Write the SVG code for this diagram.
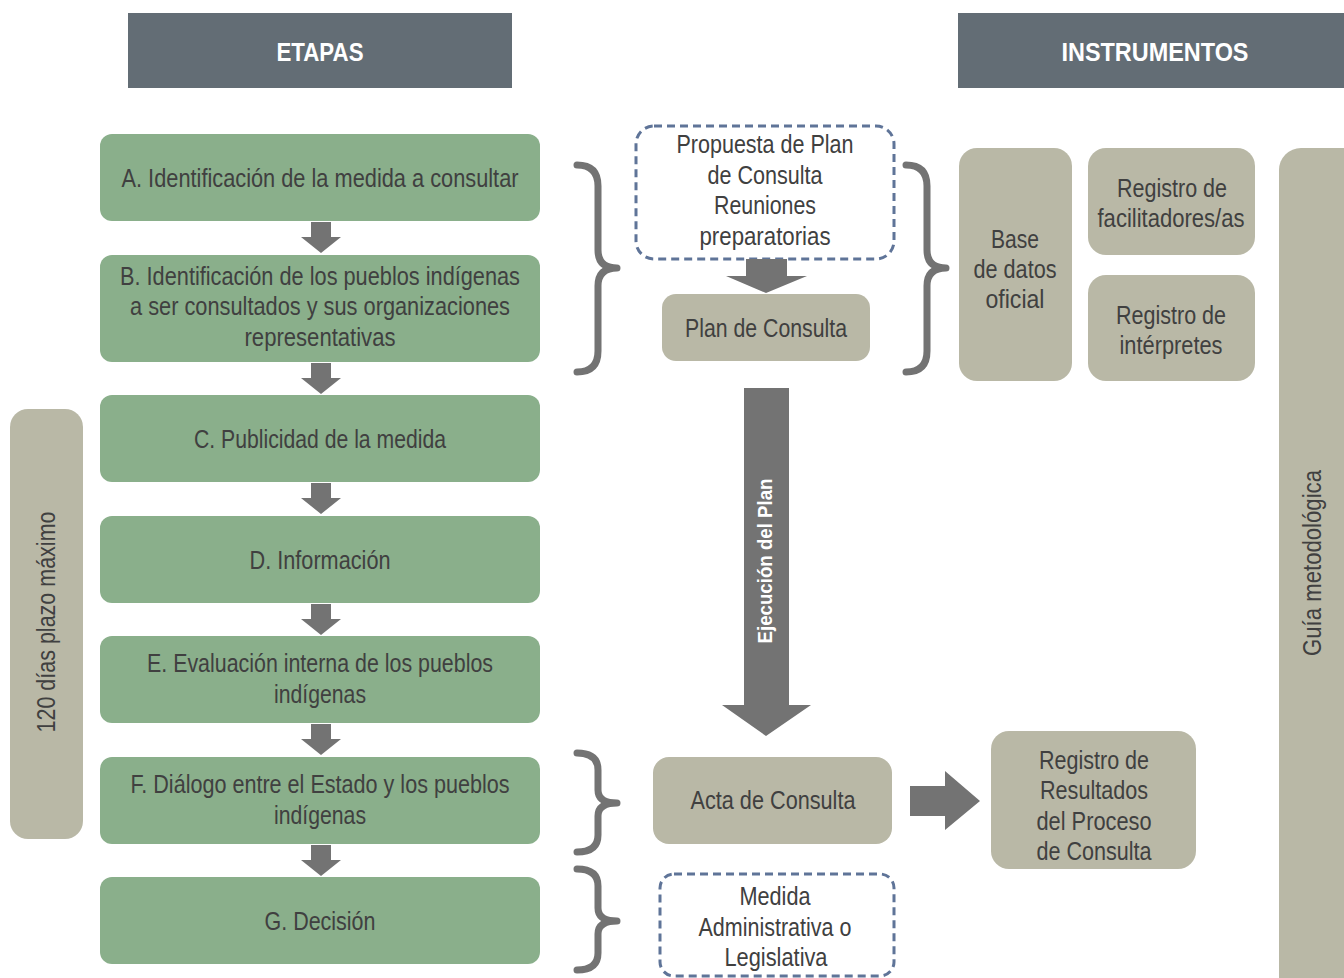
<svg xmlns="http://www.w3.org/2000/svg" width="1344" height="978" viewBox="0 0 1344 978">
<defs>
<style>
.t{font-family:"Liberation Sans Narrow","Liberation Sans",Arial,sans-serif;font-size:25px;fill:#404040;text-anchor:middle}
.h{font-family:"Liberation Sans Narrow","Liberation Sans",Arial,sans-serif;font-size:26px;font-weight:bold;fill:#ffffff;text-anchor:middle}
.hdr{fill:#636d75}
.g{fill:#8aaf8b}
.b{fill:#b9b8a6}
.d{fill:#ffffff;stroke:#5f7498;stroke-width:3;stroke-dasharray:8 5}
.ar{fill:#737373}
.br{fill:none;stroke:#737373;stroke-width:7;stroke-linecap:round;stroke-linejoin:round}
</style>
</defs>
<rect width="1344" height="978" fill="#ffffff"/>

<g id="hdr-etapas"><rect class="hdr" x="128" y="13" width="384" height="75"/><text class="h" x="320" y="61" textLength="87" lengthAdjust="spacingAndGlyphs">ETAPAS</text></g>
<g id="hdr-instrumentos"><rect class="hdr" x="958" y="13" width="386" height="75"/><text class="h" x="1155" y="61" textLength="187" lengthAdjust="spacingAndGlyphs">INSTRUMENTOS</text></g>

<g id="plazo"><rect class="b" x="10" y="409" width="73" height="430" rx="18"/><text class="t" transform="translate(55,622) rotate(-90)" x="0" y="0" textLength="221" lengthAdjust="spacingAndGlyphs">120 días plazo máximo</text></g>
<g id="guia"><rect class="b" x="1279" y="148" width="90" height="850" rx="22"/><text class="t" transform="translate(1321,563) rotate(-90)" x="0" y="0" textLength="186" lengthAdjust="spacingAndGlyphs">Guía metodológica</text></g>

<g id="A"><rect class="g" x="100" y="134" width="440" height="87" rx="12"/><text class="t" x="320" y="187" textLength="397" lengthAdjust="spacingAndGlyphs">A. Identificación de la medida a consultar</text></g>
<g id="B"><rect class="g" x="100" y="255" width="440" height="107" rx="12"/><text class="t" x="320" y="285" textLength="400" lengthAdjust="spacingAndGlyphs">B. Identificación de los pueblos indígenas</text><text class="t" x="320" y="315" textLength="380" lengthAdjust="spacingAndGlyphs">a ser consultados y sus organizaciones</text><text class="t" x="320" y="346" textLength="151" lengthAdjust="spacingAndGlyphs">representativas</text></g>
<g id="C"><rect class="g" x="100" y="395" width="440" height="87" rx="12"/><text class="t" x="320" y="448" textLength="252" lengthAdjust="spacingAndGlyphs">C. Publicidad de la medida</text></g>
<g id="D"><rect class="g" x="100" y="516" width="440" height="87" rx="12"/><text class="t" x="320" y="569" textLength="141" lengthAdjust="spacingAndGlyphs">D. Información</text></g>
<g id="E"><rect class="g" x="100" y="636" width="440" height="87" rx="12"/><text class="t" x="320" y="672" textLength="346" lengthAdjust="spacingAndGlyphs">E. Evaluación interna de los pueblos</text><text class="t" x="320" y="703" textLength="92" lengthAdjust="spacingAndGlyphs">indígenas</text></g>
<g id="F"><rect class="g" x="100" y="757" width="440" height="87" rx="12"/><text class="t" x="320" y="793" textLength="379" lengthAdjust="spacingAndGlyphs">F. Diálogo entre el Estado y los pueblos</text><text class="t" x="320" y="824" textLength="92" lengthAdjust="spacingAndGlyphs">indígenas</text></g>
<g id="G"><rect class="g" x="100" y="877" width="440" height="87" rx="12"/><text class="t" x="320" y="930" textLength="111" lengthAdjust="spacingAndGlyphs">G. Decisión</text></g>

<g id="propuesta"><rect class="d" x="636" y="126" width="258" height="133" rx="18"/><text class="t" x="765" y="153" textLength="177" lengthAdjust="spacingAndGlyphs">Propuesta de Plan</text><text class="t" x="765" y="184" textLength="115" lengthAdjust="spacingAndGlyphs">de Consulta</text><text class="t" x="765" y="214" textLength="102" lengthAdjust="spacingAndGlyphs">Reuniones</text><text class="t" x="765" y="245" textLength="131" lengthAdjust="spacingAndGlyphs">preparatorias</text></g>
<g id="plan"><rect class="b" x="662" y="294" width="208" height="67" rx="14"/><text class="t" x="766" y="337" textLength="162" lengthAdjust="spacingAndGlyphs">Plan de Consulta</text></g>
<g id="acta"><rect class="b" x="653" y="757" width="239" height="87" rx="16"/><text class="t" x="773" y="809" textLength="165" lengthAdjust="spacingAndGlyphs">Acta de Consulta</text></g>
<g id="medida"><rect class="d" x="660" y="874" width="234" height="102" rx="14"/><text class="t" x="775" y="905" textLength="71" lengthAdjust="spacingAndGlyphs">Medida</text><text class="t" x="775" y="936" textLength="153" lengthAdjust="spacingAndGlyphs">Administrativa o</text><text class="t" x="776" y="966" textLength="103" lengthAdjust="spacingAndGlyphs">Legislativa</text></g>
<g id="resultados"><rect class="b" x="991" y="731" width="205" height="138" rx="18"/><text class="t" x="1094" y="769" textLength="110" lengthAdjust="spacingAndGlyphs">Registro de</text><text class="t" x="1094" y="799" textLength="108" lengthAdjust="spacingAndGlyphs">Resultados</text><text class="t" x="1094" y="830" textLength="115" lengthAdjust="spacingAndGlyphs">del Proceso</text><text class="t" x="1094" y="860" textLength="115" lengthAdjust="spacingAndGlyphs">de Consulta</text></g>
<g id="base"><rect class="b" x="959" y="148" width="113" height="233" rx="18"/><text class="t" x="1015" y="248" textLength="48" lengthAdjust="spacingAndGlyphs">Base</text><text class="t" x="1015" y="278" textLength="83" lengthAdjust="spacingAndGlyphs">de datos</text><text class="t" x="1015" y="308" textLength="59" lengthAdjust="spacingAndGlyphs">oficial</text></g>
<g id="facilitadores"><rect class="b" x="1088" y="148" width="167" height="107" rx="18"/><text class="t" x="1172" y="197" textLength="110" lengthAdjust="spacingAndGlyphs">Registro de</text><text class="t" x="1171" y="227" textLength="147" lengthAdjust="spacingAndGlyphs">facilitadores/as</text></g>
<g id="interpretes"><rect class="b" x="1088" y="275" width="167" height="106" rx="18"/><text class="t" x="1171" y="324" textLength="110" lengthAdjust="spacingAndGlyphs">Registro de</text><text class="t" x="1171" y="354" textLength="103" lengthAdjust="spacingAndGlyphs">intérpretes</text></g>

<g id="connectors">
<polygon class="ar" points="311,222 331,222 331,237 341,237 321,253 301,237 311,237"/>
<polygon class="ar" points="311,363 331,363 331,378 341,378 321,394 301,378 311,378"/>
<polygon class="ar" points="311,483 331,483 331,498 341,498 321,514 301,498 311,498"/>
<polygon class="ar" points="311,604 331,604 331,619 341,619 321,635 301,619 311,619"/>
<polygon class="ar" points="311,724 331,724 331,739 341,739 321,755 301,739 311,739"/>
<polygon class="ar" points="311,845 331,845 331,860 341,860 321,876 301,860 311,860"/>
<polygon class="ar" points="746,259 787,259 787,276 807,276 766,293 726,276 746,276"/>
<polygon class="ar" points="744,388 789,388 789,705 811,705 766,736 722,705 744,705"/>
<text class="h" style="font-size:20px" transform="translate(772,561) rotate(-90)" x="0" y="0" textLength="165" lengthAdjust="spacingAndGlyphs">Ejecución del Plan</text>
<polygon class="ar" points="910,786 945,786 945,771 980,801 945,830 945,816 910,816"/>
<path class="br" d="M577,165 Q598,165 598,186 L598,250 Q598,268 617,268 Q598,268 598,286 L598,351 Q598,372 577,372"/>
<path class="br" d="M906,165 Q927,165 927,186 L927,250 Q927,268 946,268 Q927,268 927,286 L927,351 Q927,372 906,372"/>
<path class="br" d="M577,753 Q598,753 598,770 L598,790 Q598,803 617,803 Q598,803 598,816 L598,835 Q598,852 577,852"/>
<path class="br" d="M577,869 Q598,869 598,886 L598,908 Q598,921 617,921 Q598,921 598,934 L598,953 Q598,970 577,970"/>
</g>
</svg>
